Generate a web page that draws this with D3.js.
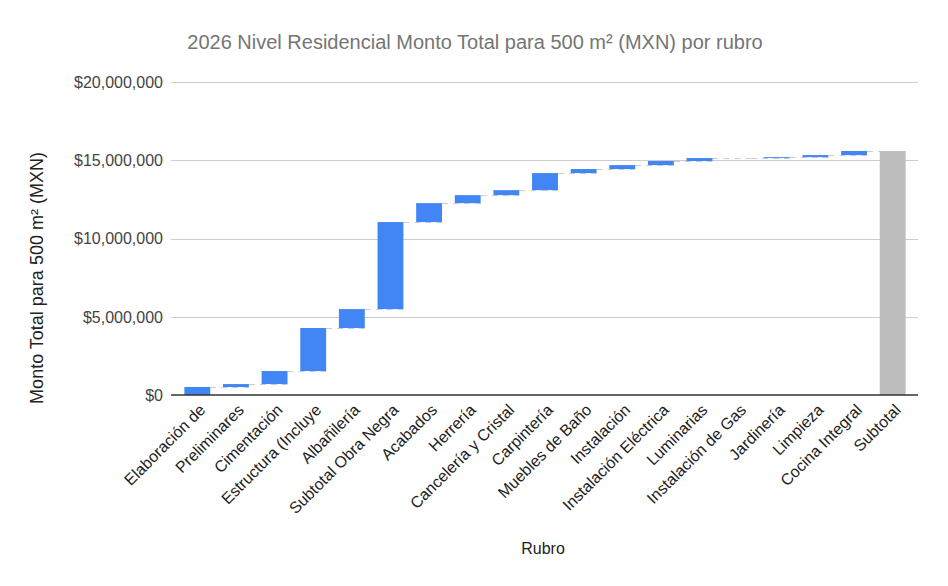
<!DOCTYPE html>
<html><head><meta charset="utf-8">
<script src="https://cdn.jsdelivr.net/npm/d3@7"></script>
<style>
body{margin:0;background:#fff;}
text{font-family:"Liberation Sans",Arial,sans-serif;}
</style></head>
<body><div id="chart"></div>
<script>
const categories = ["Elaboración de","Preliminares","Cimentación","Estructura (Incluye","Albañilería","Subtotal Obra Negra","Acabados","Herrería","Cancelería y Cristal","Carpintería","Muebles de Baño","Instalación","Instalación Eléctrica","Luminarias","Instalación de Gas","Jardinería","Limpieza","Cocina Integral","Subtotal"];
const values = [510000,190000,830000,2750000,1210000,5560000,1210000,510000,320000,1090000,260000,250000,260000,190000,0,60000,130000,260000,null];
const isTotal = [false,false,false,false,false,false,false,false,false,false,false,false,false,false,false,false,false,false,true];
const yTicks = [0,5000000,10000000,15000000,20000000];

const W=948,H=586;
const svg=d3.select("#chart").append("svg").attr("width",W).attr("height",H);
svg.append("rect").attr("width",W).attr("height",H).attr("fill","#fff");

const x=d3.scaleBand().domain(categories).range([178,912]).paddingInner(0.33).paddingOuter(0.165);
const y=d3.scaleLinear().domain([0,20000000]).range([395,82]);

// compute waterfall
let cum=0;
const bars=categories.map((c,i)=>{
  if(isTotal[i]){return {c,start:0,end:cum,total:true};}
  const s=cum; cum+=values[i]; return {c,start:s,end:cum,total:false};
});

// gridlines
const fmt=d=>"$"+d3.format(",")(d);
svg.append("g").selectAll("line").data(yTicks.filter(d=>d>0)).join("line")
  .attr("x1",171).attr("x2",918).attr("y1",d=>Math.round(y(d))+0.5).attr("y2",d=>Math.round(y(d))+0.5)
  .attr("stroke","#cccccc").attr("stroke-width",1);
svg.append("g").selectAll("text").data(yTicks).join("text")
  .attr("x",163).attr("y",d=>y(d)).attr("dy","0.36em").attr("text-anchor","end")
  .attr("font-size",16).attr("fill","#444").text(fmt);

// connectors
const conn=[];
for(let i=0;i<bars.length-1;i++){
  conn.push({x1:x(bars[i].c)+x.bandwidth(),x2:x(bars[i+1].c)+x.bandwidth(),v:bars[i].end});
}
svg.append("g").selectAll("line").data(conn).join("line")
  .attr("x1",d=>d.x1).attr("x2",d=>d.x2).attr("y1",d=>y(d.v)+0.5).attr("y2",d=>y(d.v)+0.5)
  .attr("stroke","#cccccc").attr("stroke-width",1).attr("stroke-dasharray","6,5");

// bars
svg.append("g").selectAll("rect").data(bars).join("rect")
  .attr("x",d=>x(d.c)).attr("width",x.bandwidth())
  .attr("y",d=>y(Math.max(d.start,d.end))).attr("height",d=>Math.abs(y(d.start)-y(d.end)))
  .attr("fill",d=>d.total?"#bdbdbd":"#4285f4");

// zero line
svg.append("line").attr("x1",171).attr("x2",918).attr("y1",y(0)).attr("y2",y(0))
  .attr("stroke","#333").attr("stroke-width",1.5);

// x labels
svg.append("g").selectAll("text").data(categories).join("text")
  .attr("transform",d=>`translate(${x(d)+x.bandwidth()/2+9},${411}) rotate(-45)`)
  .attr("text-anchor","end").attr("font-size",16).attr("fill","#222").text(d=>d);

// titles
svg.append("text").attr("x",475).attr("y",49).attr("text-anchor","middle")
  .attr("font-size",20).attr("fill","#757575").text("2026 Nivel Residencial Monto Total para 500 m² (MXN) por rubro");
svg.append("text").attr("transform","translate(43,278) rotate(-90)").attr("text-anchor","middle")
  .attr("font-size",18).attr("fill","#222").text("Monto Total para 500 m² (MXN)");
svg.append("text").attr("x",543).attr("y",554).attr("text-anchor","middle")
  .attr("font-size",16).attr("fill","#222").text("Rubro");
</script></body></html>
